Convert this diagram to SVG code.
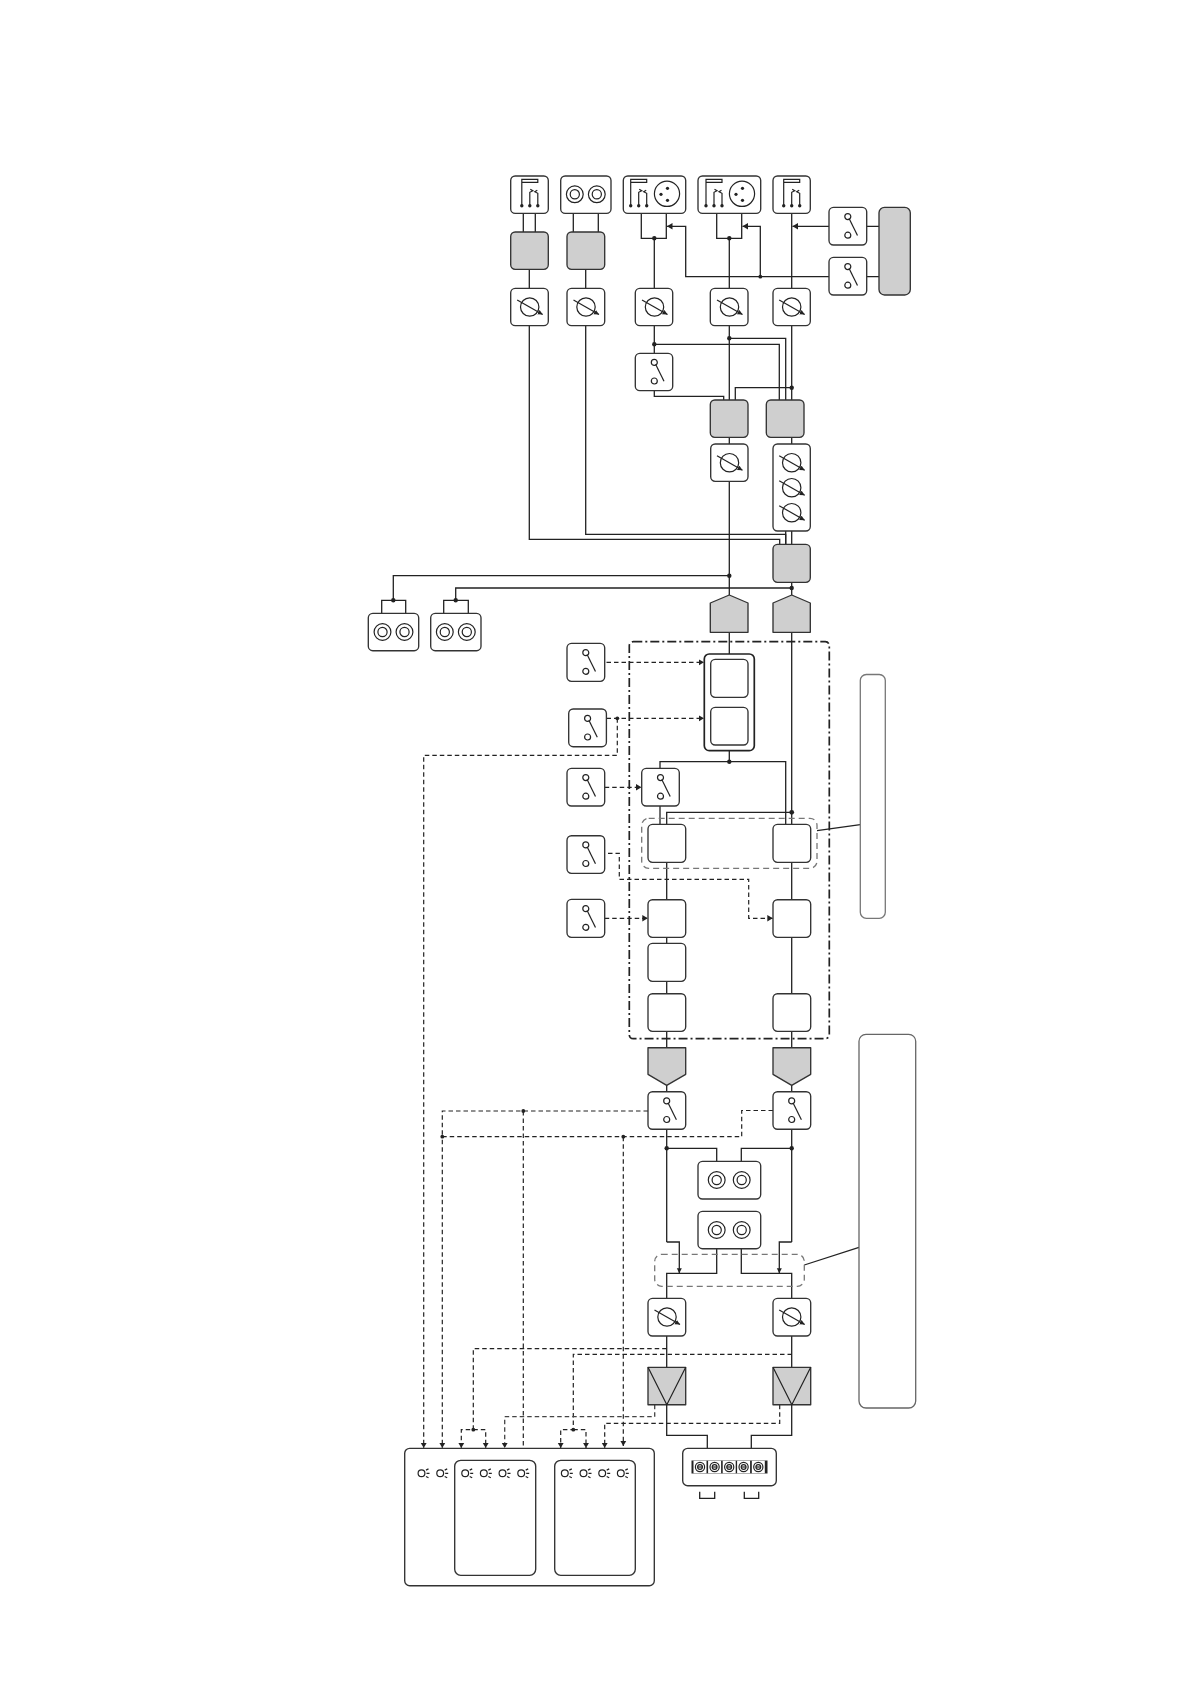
<svg xmlns="http://www.w3.org/2000/svg" width="1191" height="1684" viewBox="0 0 1191 1684">
<style>
.w{fill:#fff;stroke:#333;stroke-width:1.35}
.g{fill:#cfcfcf;stroke:#333;stroke-width:1.35;stroke-linejoin:round}
.c{fill:none;stroke:#222;stroke-width:1.3}
.d{fill:none;stroke:#222;stroke-width:1.2;stroke-dasharray:4.5 3}
.dg{fill:none;stroke:#444;stroke-width:1.3;stroke-dasharray:4.5 3}
.j{fill:#222;stroke:none}
.i{fill:none;stroke:#222;stroke-width:1.2}
.f{fill:none;stroke:#777;stroke-width:1.3;stroke-dasharray:6 4}
.o{fill:#fff;stroke:#777;stroke-width:1.3}
.b{fill:none;stroke:#222;stroke-width:1.7;stroke-dasharray:9 3 2 3}
</style>
<defs>
<marker id="a" markerUnits="userSpaceOnUse" markerWidth="7" markerHeight="7" refX="5.5" refY="3.2" orient="auto"><path d="M0 0L5.5 3.2L0 6.4Z" fill="#222"/></marker>
<marker id="s" markerUnits="userSpaceOnUse" markerWidth="7" markerHeight="7" refX="5" refY="2.5" orient="auto"><path d="M0 0L5 2.5L0 5Z" fill="#222"/></marker>
<g id="sw"><circle class="i" cx="0" cy="-9.6" r="3"/><circle class="i" cx="0" cy="9" r="3"/><path class="i" d="M1.3 -7.7L9.7 9.3"/></g>
<g id="dial"><circle class="i" cx="0" cy="0" r="9.2"/><path class="i" d="M-12.5 -7L13 7.6" marker-end="url(#s)"/></g>
<g id="sock"><circle class="i" cx="-11" cy="0" r="8.4"/><circle class="i" cx="-11" cy="0" r="4.6"/><circle class="i" cx="11" cy="0" r="8.4"/><circle class="i" cx="11" cy="0" r="4.6"/></g>
<g id="sockw"><circle class="i" cx="-12.5" cy="0" r="8.4"/><circle class="i" cx="-12.5" cy="0" r="4.6"/><circle class="i" cx="12.5" cy="0" r="8.4"/><circle class="i" cx="12.5" cy="0" r="4.6"/></g>
<g id="jack"><path class="i" d="M-8 12V-11H8V-14H-8V-11M0 12V-1L3 -2.5L0.5 -4M8 12V0L5 -1.5L7.5 -3"/><circle class="j" cx="-8" cy="12.4" r="1.7"/><circle class="j" cx="0" cy="12.4" r="1.7"/><circle class="j" cx="8" cy="12.4" r="1.7"/></g>
<g id="xlr"><circle class="i" cx="0" cy="0" r="12.6"/><circle class="j" cx="0.5" cy="-5.5" r="1.6"/><circle class="j" cx="-6" cy="0.5" r="1.6"/><circle class="j" cx="0.5" cy="6.5" r="1.6"/></g>
<g id="led"><circle class="i" cx="-0.5" cy="0" r="3.4"/><path class="i" d="M4 -3.2L6.5 -4.4M4.5 0H7.5M4 3.2L6.5 4.4"/></g>
<g id="tm"><rect x="-6.5" y="-6.3" width="13" height="12.6" fill="#fff"/><circle class="i" r="4.6"/><circle class="i" r="2.4" stroke-width="1"/><path class="i" d="M-2.5 0H2.5"/></g>
</defs>

<g id="connectors">
<path class="c" d="M523.3 213V232M535.3 213V232M573.3 213V232M598.3 213V232M529.3 269V288.3M585.7 269V288.3"/>
<path class="c" d="M641.3 213V238.3H666.3V213M654.3 238.3V288.3M716.7 213V238.3H741.7V213M729.3 238.3V288.3M791.7 213V288.3"/>
<path class="c" d="M866.7 226.3H879M866.7 276.7H879"/>
<path class="c" d="M829 226.3H792.5" marker-end="url(#a)"/>
<path class="c" d="M829 276.7H685.7V226.3H667" marker-end="url(#a)"/>
<path class="c" d="M760.3 276.7V226.3H742.5" marker-end="url(#a)"/>
<path class="c" d="M654.3 325.7V353.3M654.3 344.3H779.3V400M729.3 325.7V400M729.3 338.3H785.7V400M791.7 325.7V400M791.7 387.7H735.3V400M654.3 390.7V396.3H723.7V400"/>
<path class="c" d="M729.3 437.3V444M791.7 437.3V444M791.7 531V544.3M785.7 531V544.3"/>
<path class="c" d="M529.3 325.7V539.3H779.7V544.3M585.7 325.7V534.3H785.7V544.3"/>
<path class="c" d="M729.3 481.3V595M729.3 575.7H393.3V600.3M381.7 613.3V600.3H405.7V613.3M791.7 582.3V595M791.7 588H455.7V600.3M443.7 613.3V600.3H468.3V613.3"/>
<path class="c" d="M729.3 632.3V654M791.7 632.3V824.3M729.3 750.7V761.7M660 768.3V761.7H785.7V824.3M660 806V824.3M791.7 812.3H666.7V824.3"/>
<path class="c" d="M666.7 862.3V899.7M666.7 937.3V943.3M666.7 981.3V993.7M666.7 1031.3V1047.7M791.7 862.3V899.7M791.7 937.3V993.7M791.7 1031.3V1047.7M666.7 1085.3V1091.7M791.7 1085.3V1091.7"/>
<path class="c" d="M666.7 1129.3V1242M791.7 1129.3V1242M666.7 1148.3H716.7V1161.3M791.7 1148.3H741.3V1161.3"/>
<path class="c" d="M666.7 1242H679.3V1273.3" marker-end="url(#s)"/>
<path class="c" d="M791.7 1242H779.3V1273.3" marker-end="url(#s)"/>
<path class="c" d="M716.7 1248.7V1273.3H666.7V1298.3M741.3 1248.7V1273.3H791.7V1298.3M666.7 1336V1367.3M791.7 1336V1367.3"/>
<path class="c" d="M666.7 1404.7V1435.3H707.3V1448.3M791.7 1404.7V1435.3H751.3V1448.3"/>
<path class="d" d="M606.5 662.3H704" marker-end="url(#a)"/>
<path class="d" d="M606.5 718.3H704" marker-end="url(#a)"/>
<path class="d" d="M617.3 718.3V755.3H423.7V1448" marker-end="url(#a)"/>
<path class="d" d="M604.7 787.3H641.5" marker-end="url(#a)"/>
<path class="d" d="M608 853.3H619.3V879.3H748.7V918.3H772.8" marker-end="url(#a)"/>
<path class="d" d="M604.7 918.3H647.8" marker-end="url(#a)"/>
<path class="d" d="M648 1111H442.3V1136.7M523.3 1111V1448M773 1110.5H741.7V1136.7H442.3V1448" marker-end="url(#a)"/>
<path class="d" d="M623.3 1136.7V1446" marker-end="url(#a)"/>
<path class="d" d="M666.7 1348.7H473.3V1429.7H461.3V1448" marker-end="url(#a)"/>
<path class="d" d="M473.3 1429.7H485.7V1448" marker-end="url(#a)"/>
<path class="d" d="M792 1354.3H573.3V1429.7H560.7V1448" marker-end="url(#a)"/>
<path class="d" d="M573.3 1429.7H586V1448" marker-end="url(#a)"/>
<path class="dg" d="M654.7 1404.7V1416.7H504.7V1448" marker-end="url(#a)"/>
<path class="d" d="M779.7 1404.7V1423.3H604.7V1448" marker-end="url(#a)"/>
<path class="c" d="M817 830.7L860.3 824.7M804.3 1265L859 1247.3" stroke="#333"/>
<g class="j">
<circle cx="654.3" cy="238.3" r="2.2"/><circle cx="729.3" cy="238.3" r="2.2"/><circle cx="760.3" cy="276.7" r="1.9"/>
<circle cx="654.3" cy="344.3" r="2.2"/><circle cx="729.3" cy="338.3" r="2.2"/><circle cx="791.7" cy="387.7" r="2.2"/>
<circle cx="729.3" cy="575.7" r="2.2"/><circle cx="393.3" cy="600.3" r="2.2"/><circle cx="791.7" cy="588" r="2.2"/><circle cx="455.7" cy="600.3" r="2.2"/>
<circle cx="617.3" cy="718.3" r="1.9"/><circle cx="729.3" cy="761.7" r="2.2"/><circle cx="791.7" cy="812.3" r="2.4"/>
<circle cx="523.3" cy="1111" r="1.9"/><circle cx="442.3" cy="1136.7" r="1.9"/><circle cx="623.3" cy="1136.7" r="1.9"/>
<circle cx="666.7" cy="1148.3" r="2.2"/><circle cx="791.7" cy="1148.3" r="2.2"/>
<circle cx="473.3" cy="1429.7" r="1.9"/><circle cx="573.3" cy="1429.7" r="1.9"/>
</g>
</g>

<g id="node-jack-1"><rect class="w" x="510.7" y="176" width="37.6" height="37.4" rx="4.5"/><use href="#jack" x="529.8" y="193.3"/></g>
<g id="node-socket-1"><rect class="w" x="560.7" y="176" width="50.3" height="37.4" rx="4.5"/><use href="#sock" x="585.8" y="194.3"/></g>
<g id="node-combo-1"><rect class="w" x="623.3" y="176" width="62.4" height="37.4" rx="4.5"/><use href="#jack" x="638.7" y="193.3"/><use href="#xlr" x="667" y="193.8"/></g>
<g id="node-combo-2"><rect class="w" x="698" y="176" width="62.7" height="37.4" rx="4.5"/><use href="#jack" x="714" y="193.3"/><use href="#xlr" x="742" y="193.8"/></g>
<g id="node-jack-2"><rect class="w" x="773" y="176" width="37.3" height="37.4" rx="4.5"/><use href="#jack" x="791.7" y="193.3"/></g>
<g id="node-switch-1"><rect class="w" x="829" y="207.3" width="37.7" height="37.7" rx="4.5"/><use href="#sw" x="847.8" y="226.2"/></g>
<g id="node-switch-2"><rect class="w" x="829" y="257.3" width="37.7" height="37.7" rx="4.5"/><use href="#sw" x="847.8" y="276.2"/></g>
<g id="node-grey-right"><rect class="g" x="879" y="207.3" width="31.3" height="87.7" rx="5.5"/></g>
<g id="node-grey-1"><rect class="g" x="510.7" y="232" width="37.6" height="37.3" rx="4.5"/></g>
<g id="node-grey-2"><rect class="g" x="567" y="232" width="37.7" height="37.3" rx="4.5"/></g>
<g id="node-dial-1"><rect class="w" x="510.7" y="288.3" width="37.6" height="37.4" rx="4.5"/><use href="#dial" x="529.7" y="307"/></g>
<g id="node-dial-2"><rect class="w" x="567" y="288.3" width="37.7" height="37.4" rx="4.5"/><use href="#dial" x="586" y="307"/></g>
<g id="node-dial-3"><rect class="w" x="635.3" y="288.3" width="37.4" height="37.4" rx="4.5"/><use href="#dial" x="654.5" y="307"/></g>
<g id="node-dial-4"><rect class="w" x="710.3" y="288.3" width="37.7" height="37.4" rx="4.5"/><use href="#dial" x="729.5" y="307"/></g>
<g id="node-dial-5"><rect class="w" x="773" y="288.3" width="37.3" height="37.4" rx="4.5"/><use href="#dial" x="791.7" y="307"/></g>
<g id="node-switch-3"><rect class="w" x="635.3" y="353.3" width="37.4" height="37.4" rx="4.5"/><use href="#sw" x="654.3" y="372"/></g>
<g id="node-grey-3"><rect class="g" x="710.3" y="400" width="37.7" height="37.3" rx="4.5"/></g>
<g id="node-grey-4"><rect class="g" x="766.3" y="400" width="37.7" height="37.3" rx="4.5"/></g>
<g id="node-dial-6"><rect class="w" x="710.7" y="444" width="37.3" height="37.3" rx="4.5"/><use href="#dial" x="729.5" y="462.7"/></g>
<g id="node-dial-triple"><rect class="w" x="773" y="444" width="37.3" height="87" rx="4.5"/><use href="#dial" x="791.7" y="462.7"/><use href="#dial" x="791.7" y="487.7"/><use href="#dial" x="791.7" y="512.7"/></g>
<g id="node-grey-5"><rect class="g" x="773" y="544.3" width="37.3" height="38" rx="4.5"/></g>
<g id="node-socket-2"><rect class="w" x="368.3" y="613.3" width="50.4" height="37.4" rx="4.5"/><use href="#sock" x="393.5" y="632"/></g>
<g id="node-socket-3"><rect class="w" x="430.7" y="613.3" width="50.3" height="37.4" rx="4.5"/><use href="#sock" x="455.8" y="632"/></g>
<g id="node-pent-1"><path class="g" d="M710.3 632.3V603L729.3 595L748 603V632.3Z"/></g>
<g id="node-pent-2"><path class="g" d="M773 632.3V603L791.7 595L810.3 603V632.3Z"/></g>
<g id="node-switch-4"><rect class="w" x="567" y="643.3" width="37.7" height="38" rx="4.5"/><use href="#sw" x="585.8" y="662.3"/></g>
<g id="node-switch-5"><rect class="w" x="568.7" y="709" width="37.7" height="37.7" rx="4.5"/><use href="#sw" x="587.6" y="728"/></g>
<g id="node-switch-6"><rect class="w" x="567" y="768.3" width="37.7" height="37.7" rx="4.5"/><use href="#sw" x="585.8" y="787.2"/></g>
<g id="node-switch-7"><rect class="w" x="567" y="835.7" width="37.7" height="37.6" rx="4.5"/><use href="#sw" x="585.8" y="854.5"/></g>
<g id="node-switch-8"><rect class="w" x="567" y="899.3" width="37.7" height="38" rx="4.5"/><use href="#sw" x="585.8" y="918.3"/></g>
<g id="node-double"><rect class="w" x="704.3" y="654" width="50" height="96.7" rx="5" style="stroke-width:1.7;stroke:#222"/><rect class="w" x="710.7" y="659.3" width="37.3" height="38" rx="4.5"/><rect class="w" x="710.7" y="707.3" width="37.3" height="37.7" rx="4.5"/></g>
<g id="node-switch-9"><rect class="w" x="641.7" y="768.3" width="37.6" height="37.7" rx="4.5"/><use href="#sw" x="660.5" y="787.2"/></g>
<g id="node-box-1"><rect class="w" x="648" y="824.3" width="37.7" height="38" rx="4.5"/></g>
<g id="node-box-2"><rect class="w" x="773" y="824.3" width="37.7" height="38" rx="4.5"/></g>
<g id="node-box-3"><rect class="w" x="648" y="899.7" width="37.7" height="37.6" rx="4.5"/></g>
<g id="node-box-4"><rect class="w" x="773" y="899.7" width="37.7" height="37.6" rx="4.5"/></g>
<g id="node-box-5"><rect class="w" x="648" y="943.3" width="37.7" height="38" rx="4.5"/></g>
<g id="node-box-6"><rect class="w" x="648" y="993.7" width="37.7" height="37.6" rx="4.5"/></g>
<g id="node-box-7"><rect class="w" x="773" y="993.7" width="37.7" height="37.6" rx="4.5"/></g>
<g id="frame-dashdot"><rect class="b" x="629.3" y="641.7" width="200" height="397" rx="4"/></g>
<g id="frame-pair"><rect class="f" x="641.7" y="818.3" width="175.3" height="50" rx="7"/></g>
<g id="callout-1"><rect class="o" x="860.3" y="674.5" width="25" height="243.8" rx="6"/></g>
<g id="callout-2"><rect class="o" x="859" y="1034.3" width="56.7" height="373.7" rx="7" style="stroke:#666"/></g>
<g id="node-pent-3"><path class="g" d="M648 1047.7H685.7V1074.3L666.7 1085.3L648 1074.3Z"/></g>
<g id="node-pent-4"><path class="g" d="M773 1047.7H810.7V1074.3L791.7 1085.3L773 1074.3Z"/></g>
<g id="node-switch-10"><rect class="w" x="648" y="1091.7" width="37.7" height="37.6" rx="4.5"/><use href="#sw" x="666.7" y="1110.5"/></g>
<g id="node-switch-11"><rect class="w" x="773" y="1091.7" width="37.7" height="37.6" rx="4.5"/><use href="#sw" x="791.7" y="1110.5"/></g>
<g id="node-socket-4"><rect class="w" x="698" y="1161.3" width="62.7" height="37.7" rx="4.5"/><use href="#sockw" x="729.2" y="1180"/></g>
<g id="node-socket-5"><rect class="w" x="698" y="1211.3" width="62.7" height="37.4" rx="4.5"/><use href="#sockw" x="729.2" y="1230"/></g>
<g id="frame-mix"><rect class="f" x="654.7" y="1254.3" width="149.6" height="32" rx="7"/></g>
<g id="node-dial-7"><rect class="w" x="648" y="1298.3" width="37.7" height="37.7" rx="4.5"/><use href="#dial" x="667" y="1317"/></g>
<g id="node-dial-8"><rect class="w" x="773" y="1298.3" width="37.7" height="37.7" rx="4.5"/><use href="#dial" x="791.7" y="1317"/></g>
<g id="node-amp-1"><rect class="g" x="648" y="1367.3" width="37.7" height="37.4"/><path class="i" d="M648 1367.3L666.8 1404.7L685.7 1367.3"/></g>
<g id="node-amp-2"><rect class="g" x="773" y="1367.3" width="37.7" height="37.4"/><path class="i" d="M773 1367.3L791.8 1404.7L810.7 1367.3"/></g>
<g id="node-terminal"><rect class="w" x="682.7" y="1448.3" width="93.6" height="37.4" rx="5"/><rect x="691.5" y="1460.5" width="76" height="13" fill="#222"/><use href="#tm" x="700" y="1467"/><use href="#tm" x="714.6" y="1467"/><use href="#tm" x="729.2" y="1467"/><use href="#tm" x="743.6" y="1467"/><use href="#tm" x="758.3" y="1467"/><path class="c" d="M699.7 1491.7V1498.3H714.7V1491.7M744.3 1491.7V1498.3H758.7V1491.7"/></g>
<g id="node-panel"><rect class="w" x="404.7" y="1448.3" width="249.6" height="137.4" rx="5"/><rect class="w" x="454.7" y="1460.3" width="81" height="115" rx="6"/><rect class="w" x="554.7" y="1460.3" width="80.6" height="115" rx="6"/>
<use href="#led" x="422" y="1473.3"/><use href="#led" x="440.7" y="1473.3"/><use href="#led" x="465.7" y="1473.3"/><use href="#led" x="484.3" y="1473.3"/><use href="#led" x="503" y="1473.3"/><use href="#led" x="521.7" y="1473.3"/><use href="#led" x="565.3" y="1473.3"/><use href="#led" x="584" y="1473.3"/><use href="#led" x="602.7" y="1473.3"/><use href="#led" x="621.3" y="1473.3"/></g>
</svg>
